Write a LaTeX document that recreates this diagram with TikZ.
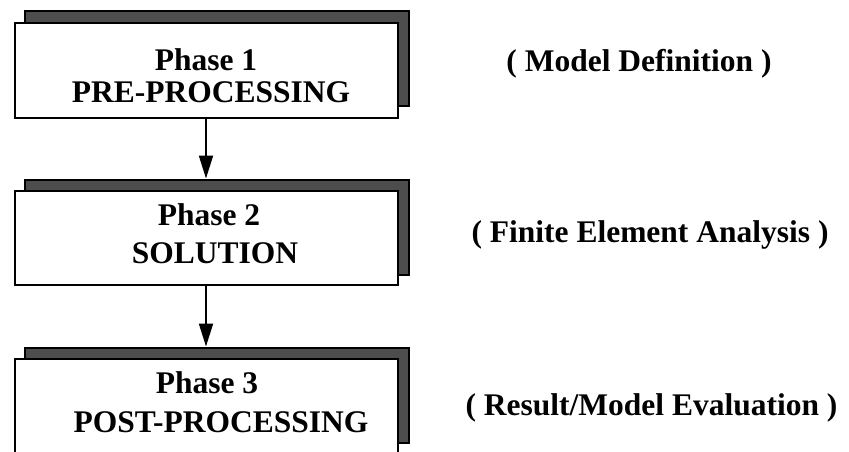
\documentclass[tikz,border=0pt]{standalone}
\usepackage{fontspec}
\setmainfont{Liberation Serif}
\usetikzlibrary{arrows.meta}
\definecolor{shadowgray}{HTML}{4D4D4D}
\begin{document}
\begin{tikzpicture}[x=1pt,y=1pt,
  frontbox/.style={draw=black,line width=2pt,fill=white,inner sep=0pt,minimum width=383pt,minimum height=94.5pt},
  shadowbox/.style={draw=black,line width=2pt,fill=shadowgray,inner sep=0pt,minimum width=384pt,minimum height=95pt},
  boxtext/.style={anchor=base,inner sep=0pt,font=\fontsize{31.5}{38}\selectfont\bfseries},
  sidetext/.style={anchor=base,inner sep=0pt,font=\fontsize{31.5}{38}\selectfont\bfseries},
  arr/.style={line width=2pt,-{Triangle[length=23pt,width=14pt]}}]
\useasboundingbox (0,0) rectangle (849,-451);
\clip (0,0) rectangle (849,-451);
% shadows
\node[shadowbox] (s1) at (217,-58.75) {};
\node[shadowbox] (s2) at (217,-227) {};
\node[shadowbox] (s3) at (216.5,-395) {};
% front boxes
\node[frontbox] (f1) at (206,-70.25) {};
\node[frontbox] (f2) at (206,-237.75) {};
\node[frontbox] (f3) at (206,-405.75) {};
% box texts
\node[boxtext] (t1a) at (206,-70) {Phase 1};
\node[boxtext] (t1b) at (211,-102) {PRE-PROCESSING};
\node[boxtext] (t2a) at (209,-225) {Phase 2};
\node[boxtext] (t2b) at (215,-263.5) {SOLUTION};
\node[boxtext] (t3a) at (207,-393) {Phase 3};
\node[boxtext] (t3b) at (221,-432) {POST-PROCESSING};
% side labels
\node[sidetext] (l1) at (639,-71) {( Model Definition )};
\node[sidetext] (l2) at (650,-242) {( Finite Element Analysis )};
\node[sidetext] (l3) at (651.5,-415) {( Result/Model Evaluation )};
% arrows
\draw[arr] (f1.south) -- (f1.south |- s2.north);
\draw[arr] (f2.south) -- (f2.south |- s3.north);
\end{tikzpicture}
\end{document}
